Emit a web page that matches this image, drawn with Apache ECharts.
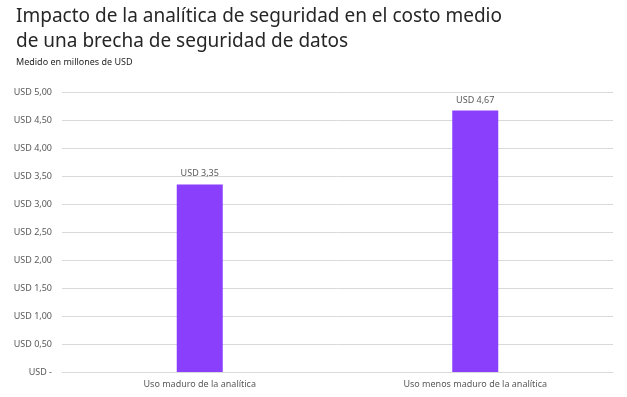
<!DOCTYPE html>
<html>
<head>
<meta charset="utf-8">
<script src="https://cdn.jsdelivr.net/npm/echarts@6/dist/echarts.min.js"></script>
<style>
	html, body { margin: 0; padding: 0; background: #fff; }
	#chart { width: 627px; height: 397px; }
</style>
</head>
<body>
<div id="chart"></div>
<script>
	// datos del gráfico
	const categories = ['Uso maduro de la analítica', 'Uso menos maduro de la analítica']
	const values = [3.35, 4.67]

	function usd(v) {
		if (v === 0) return 'USD -'
		return 'USD ' + v.toFixed(2).replace('.', ',')
	}

	const myChart = echarts.init(document.getElementById('chart'))
	myChart.setOption({
		animation: false,
		textStyle: { fontFamily: 'Noto Sans' },
		title: {
			text: 'Impacto de la analítica de seguridad en el costo medio\nde una brecha de seguridad de datos',
			subtext: 'Medido en millones de USD',
			left: 11,
			top: -1,
			itemGap: 4,
			textStyle: { fontSize: 19, fontWeight: 'normal', color: '#262626', lineHeight: 25, fontFamily: 'Noto Sans' },
			subtextStyle: { fontSize: 9, color: '#262626', fontFamily: 'Noto Sans' }
		},
		grid: { left: 62, right: 14, top: 92, bottom: 25, containLabel: false },
		xAxis: {
			type: 'category',
			data: categories,
			axisLine: { show: true, lineStyle: { color: '#d9d9d9' } },
			axisTick: { show: false },
			axisLabel: { color: '#595959', fontSize: 9, margin: 8 }
		},
		yAxis: {
			type: 'value',
			min: 0,
			max: 5,
			interval: 0.5,
			axisLine: { show: false },
			axisTick: { show: false },
			splitLine: { lineStyle: { color: '#d9d9d9' } },
			axisLabel: { color: '#595959', fontSize: 9, margin: 10, formatter: usd }
		},
		series: [{
			type: 'bar',
			data: values,
			barWidth: 46,
			itemStyle: { color: '#8a3ffc' },
			label: {
				show: true,
				position: 'top',
				distance: 6,
				color: '#595959',
				fontSize: 9,
				formatter: p => usd(p.value)
			}
		}]
	})
</script>
</body>
</html>
